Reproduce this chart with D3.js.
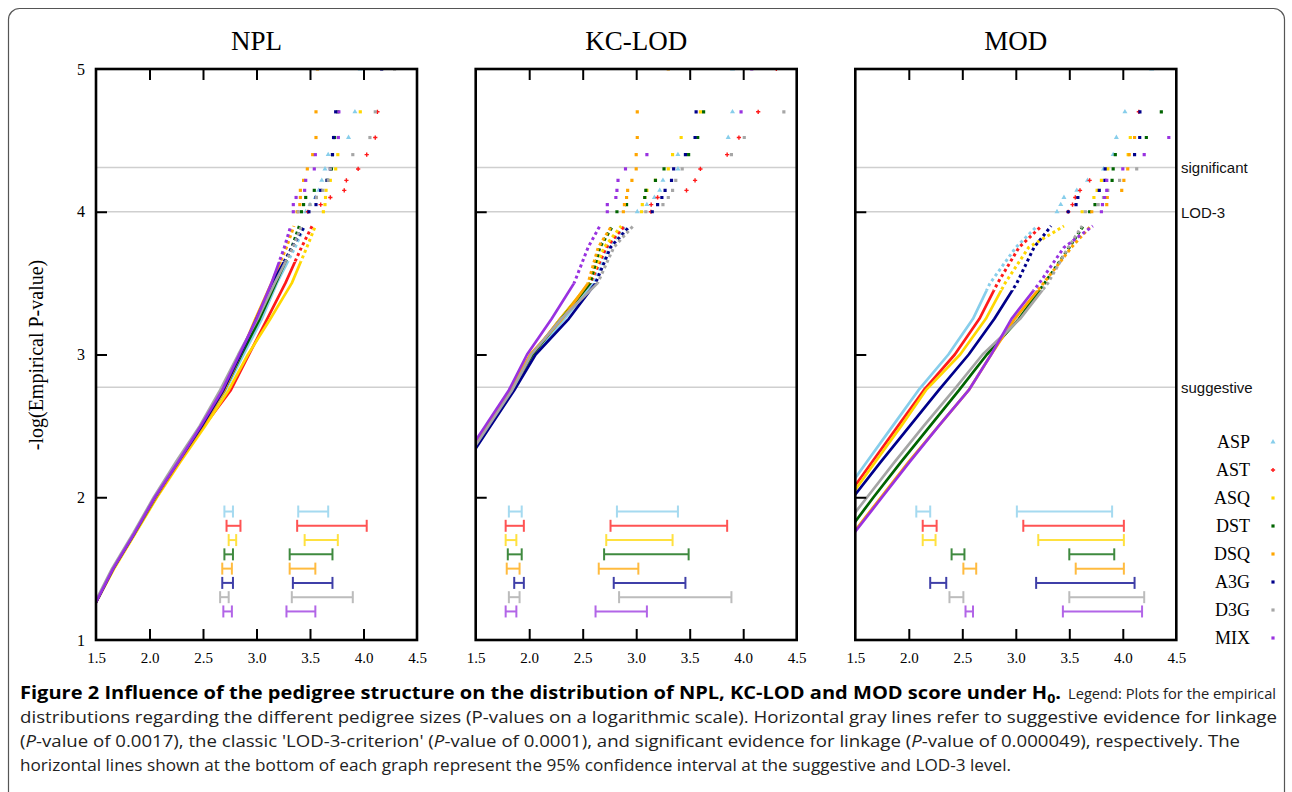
<!DOCTYPE html>
<html><head><meta charset="utf-8">
<script src="https://cdn.jsdelivr.net/npm/d3@7"></script>
<style>body{margin:0;background:#fff} svg{display:block}</style>
</head><body><svg id="c" width="1292" height="792"></svg>
<script>
const series = ["ASP","AST","ASQ","DST","DSQ","A3G","D3G","MIX"];
const colors = ["#87ceeb","#ff1a1a","#ffd700","#006400","#ffa500","#00008b","#a6a6a6","#9932e0"];
const panels = ["NPL","KC-LOD","MOD"];
const xTicks = [1.5,2.0,2.5,3.0,3.5,4.0,4.5];
const yTicks = [1,2,3,4,5];
const thresholds = [2.77, 4.0, 4.31];
const thresholdLabels = ["suggestive","LOD-3","significant"];

// -log(P) levels at which the solid part of each curve is sampled
const bodyLevels = [1.0,1.25,1.5,1.75,2.0,2.25,2.5,2.75,3.0,3.25,3.5,3.75,3.9];
// -log(P) levels of the isolated top points (ranks 1..10)
const tailLevels = [5.0,4.70,4.52,4.40,4.30,4.22,4.15,4.10,4.05,4.00];

// NPL
const nplBody = [
  [1.32,1.49,1.66,1.86,2.06,2.28,2.50,2.71,2.88,3.05,3.19,3.36,3.45],
  [1.32,1.49,1.66,1.86,2.06,2.28,2.51,2.76,2.93,3.10,3.27,3.42,3.52],
  [1.32,1.49,1.67,1.87,2.07,2.29,2.52,2.74,2.92,3.13,3.33,3.47,3.55],
  [1.32,1.49,1.66,1.86,2.06,2.27,2.49,2.70,2.86,3.03,3.18,3.33,3.40],
  [1.32,1.49,1.66,1.86,2.06,2.28,2.50,2.70,2.85,2.99,3.14,3.28,3.35],
  [1.32,1.49,1.66,1.86,2.05,2.27,2.49,2.69,2.85,3.00,3.15,3.33,3.45],
  [1.31,1.48,1.65,1.85,2.04,2.25,2.47,2.66,2.83,3.01,3.17,3.34,3.42],
  [1.32,1.49,1.66,1.86,2.05,2.27,2.48,2.68,2.84,3.00,3.14,3.26,3.32]
];
const nplTail = [
  [3.97,3.92,3.86,3.67,3.64,3.61,3.58,3.55,3.50,3.46],
  [null,4.13,4.11,4.03,3.95,3.84,3.82,3.69,3.60,3.48],
  [null,3.97,null,3.76,3.74,3.69,3.65,3.645,3.64,3.625],
  [null,3.76,3.73,3.71,3.70,3.66,3.54,3.46,3.44,3.42],
  [3.57,3.556,3.556,3.525,3.475,3.44,3.41,3.41,3.405,3.38],
  [4.17,3.74,3.72,3.71,3.69,3.66,3.60,3.556,3.556,3.49],
  [4.29,4.11,4.06,3.90,3.69,3.67,3.62,3.56,3.50,3.39],
  [null,3.77,3.765,3.55,3.54,3.46,3.45,3.37,3.344,3.344]
];
const nplSugCI = [[2.70,2.78],[2.72,2.85],[2.74,2.81],[2.70,2.78],[2.68,2.77],[2.68,2.78],[2.66,2.74],[2.69,2.77]];
const nplLodCI = [[3.39,3.67],[3.38,4.03],[3.45,3.76],[3.31,3.71],[3.31,3.55],[3.34,3.71],[3.33,3.90],[3.28,3.55]];

// KC-LOD
const kcBody = [
  [null,null,null,null,null,1.40,1.62,1.84,2.05,2.33,2.60,2.74,2.90],
  [null,null,null,null,null,1.39,1.61,1.83,2.03,2.29,2.57,2.72,2.89],
  [null,null,null,null,null,1.39,1.61,1.83,2.03,2.29,2.56,2.70,2.86],
  [null,null,null,null,null,1.39,1.61,1.83,2.03,2.30,2.57,2.66,2.78],
  [null,null,null,null,null,1.38,1.60,1.82,2.01,2.31,2.55,2.645,2.77],
  [null,null,null,null,null,1.42,1.64,1.86,2.06,2.37,2.62,2.76,2.94],
  [null,null,null,null,null,1.40,1.62,1.84,2.02,2.30,2.64,2.79,2.97],
  [null,null,null,null,null,1.37,1.59,1.81,1.98,2.21,2.42,2.55,2.66]
];
const kcTail = [
  [3.90,3.90,3.86,3.39,3.39,3.25,3.22,3.17,3.10,3.01],
  [4.31,4.14,3.96,3.85,3.60,3.55,3.47,3.20,3.14,3.138],
  [null,3.60,3.42,3.34,3.30,3.18,3.10,3.08,3.057,3.05],
  [null,3.63,3.575,3.49,3.26,3.18,3.09,3.08,2.91,2.82],
  [3.30,3.01,3.01,3.00,3.00,2.96,2.92,2.91,2.89,2.88],
  [null,3.56,3.55,3.46,3.35,3.33,3.27,3.24,3.20,3.15],
  [null,4.38,4.01,3.89,3.43,3.37,3.34,3.30,3.25,3.09],
  [4.08,3.98,null,3.10,2.90,2.83,2.82,2.81,2.73,2.73]
];
const kcSugCI = [[1.81,1.93],[1.78,1.95],[1.78,1.88],[1.80,1.93],[1.79,1.91],[1.86,1.95],[1.81,1.91],[1.78,1.88]];
const kcLodCI = [[2.82,3.39],[2.76,3.85],[2.72,3.34],[2.70,3.49],[2.65,3.02],[2.79,3.46],[2.84,3.89],[2.62,3.10]];

// MOD
const modBody = [
  [null,null,null,null,1.37,1.61,1.85,2.09,2.37,2.60,2.76,3.00,3.20],
  [null,null,null,null,1.42,1.66,1.90,2.14,2.43,2.66,2.83,3.03,3.24],
  [null,null,null,null,1.45,1.69,1.93,2.16,2.48,2.72,2.90,3.12,3.45],
  [null,null,null,1.42,1.67,1.93,2.20,2.47,2.73,3.03,3.27,3.50,3.63],
  [null,null,null,1.48,1.74,2.00,2.28,2.56,2.77,2.99,3.26,3.52,3.70],
  [null,null,null,null,1.48,1.74,2.01,2.28,2.56,2.80,3.01,3.17,3.33],
  [null,null,null,1.35,1.61,1.87,2.14,2.42,2.69,3.04,3.30,3.49,3.62],
  [null,null,null,1.49,1.75,2.01,2.28,2.56,2.77,2.96,3.22,3.45,3.72]
];
const modTail = [
  [4.27,4.02,3.94,3.91,3.82,3.67,3.57,3.45,3.42,3.385],
  [null,4.15,null,null,null,3.69,3.60,3.556,3.53,3.49],
  [null,null,4.07,4.05,3.86,3.80,3.76,3.73,null,3.62],
  [null,4.36,4.22,3.93,3.91,3.90,null,3.82,3.74,3.69],
  [null,null,4.11,4.06,4.046,4.01,3.99,3.855,3.85,3.71],
  [null,4.16,4.158,4.11,3.835,3.833,3.78,3.58,3.563,3.49],
  [null,null,null,null,4.13,3.97,3.86,3.82,3.77,3.65],
  [null,null,4.43,4.20,4.00,3.85,3.85,3.83,3.81,3.80]
];
const modSugCI = [[2.07,2.20],[2.13,2.26],[2.13,2.25],[2.40,2.52],[2.51,2.63],[2.20,2.35],[2.38,2.51],[2.53,2.60]];
const modLodCI = [[3.01,3.90],[3.07,4.01],[3.21,4.01],[3.50,3.92],[3.56,4.01],[3.19,4.11],[3.50,4.20],[3.44,4.18]];

const bodies = [nplBody, kcBody, modBody];
const tails = [nplTail, kcTail, modTail];
const sugCIs = [nplSugCI, kcSugCI, modSugCI];
const lodCIs = [nplLodCI, kcLodCI, modLodCI];

const serif = "'Liberation Serif','Times New Roman',serif";
const sans = "'Liberation Sans',Arial,sans-serif";
const svg = d3.select("#c");
const defs = svg.append("defs");

// outer figure border
svg.append("rect").attr("x",8.5).attr("y",8.5).attr("width",1276).attr("height",810)
  .attr("rx",11).attr("fill","none").attr("stroke","#555").attr("stroke-width",1.2);

const panelLeft = [96, 475.7, 855.3], PW = 321, PT = 69, PB = 640;
const dotStart = [3.65, 3.5, 3.45];

function marker(g, i, cx, cy) {
  const type = i === 0 ? d3.symbolTriangle : (i === 1 ? d3.symbolCross : d3.symbolSquare);
  const size = i === 0 ? 11 : 10;
  g.append("path").attr("d", d3.symbol(type, size)())
    .attr("transform", `translate(${cx},${cy})`).attr("fill", colors[i]);
}

panels.forEach((name, p) => {
  const L = panelLeft[p];
  const x = d3.scaleLinear().domain([1.5, 4.5]).range([L, L + PW]);
  const y = d3.scaleLinear().domain([1, 5]).range([PB, PT]);
  const g = svg.append("g");

  const ySplit = y(dotStart[p]);
  defs.append("clipPath").attr("id", "ca" + p).append("rect")
    .attr("x", L).attr("y", PT).attr("width", PW).attr("height", PB - PT);
  defs.append("clipPath").attr("id", "cl" + p).append("rect")
    .attr("x", L).attr("y", ySplit).attr("width", PW).attr("height", PB - ySplit);
  defs.append("clipPath").attr("id", "ch" + p).append("rect")
    .attr("x", L).attr("y", PT).attr("width", PW).attr("height", ySplit - PT);

  thresholds.forEach(t => {
    g.append("line").attr("x1", L).attr("x2", L + PW).attr("y1", y(t)).attr("y2", y(t))
      .attr("stroke", "#cfcfcf").attr("stroke-width", 1.5);
  });

  const line = d3.line().x(d => x(d[0])).y(d => y(d[1]));
  const gc = g.append("g");
  series.forEach((s, i) => {
    const pts = bodies[p][i].map((v, j) => [v, bodyLevels[j]]).filter(d => d[0] != null);
    gc.append("path").attr("d", line(pts)).attr("clip-path", `url(#cl${p})`)
      .attr("fill", "none").attr("stroke", colors[i]).attr("stroke-width", 2.7)
      .attr("stroke-linejoin", "round");
    gc.append("path").attr("d", line(pts)).attr("clip-path", `url(#ch${p})`)
      .attr("fill", "none").attr("stroke", colors[i]).attr("stroke-width", 3)
      .attr("stroke-dasharray", "3,3");
  });
  const gt = g.append("g").attr("clip-path", `url(#ca${p})`);
  series.forEach((s, i) => {
    tails[p][i].forEach((v, k) => {
      if (v == null) return;
      marker(gt, i, x(v), y(tailLevels[k]));
    });
  });

  const rowY = d3.scalePoint().domain(series).range([y(1.9), y(1.2)]);
  [sugCIs[p], lodCIs[p]].forEach(ci => {
    ci.forEach((d, i) => {
      const yy = rowY(series[i]);
      const gg = g.append("g").attr("stroke", colors[i]).attr("stroke-width", 2).attr("opacity", 0.75);
      gg.append("line").attr("x1", x(d[0])).attr("x2", x(d[1])).attr("y1", yy).attr("y2", yy);
      d.forEach(v => gg.append("line").attr("x1", x(v)).attr("x2", x(v)).attr("y1", yy - 6).attr("y2", yy + 6));
    });
  });

  const styleTicks = sel => { sel.select(".domain").remove(); sel.selectAll(".tick line").attr("stroke", "#000").attr("stroke-width", 2); };
  g.append("g").attr("transform", `translate(0,${PB})`)
    .call(d3.axisBottom(x).tickValues([2, 2.5, 3, 3.5, 4]).tickSize(-11).tickFormat("")).call(styleTicks);
  g.append("g").attr("transform", `translate(0,${PT})`)
    .call(d3.axisTop(x).tickValues([2, 2.5, 3, 3.5, 4]).tickSize(-11).tickFormat("")).call(styleTicks);
  g.append("g").attr("transform", `translate(${L},0)`)
    .call(d3.axisLeft(y).tickValues([2, 3, 4]).tickSize(-11).tickFormat("")).call(styleTicks);

  const xl = g.append("g").attr("transform", `translate(0,${PB})`)
    .call(d3.axisBottom(x).tickValues(xTicks).tickSize(0).tickPadding(12).tickFormat(d3.format(".1f")));
  xl.select(".domain").remove();
  xl.selectAll("text").attr("font-family", serif).attr("font-size", 15).attr("fill", "#000");
  if (p === 0) {
    const yl = g.append("g").attr("transform", `translate(${L},0)`)
      .call(d3.axisLeft(y).tickValues(yTicks).tickSize(0).tickPadding(11).tickFormat(d3.format("d")));
    yl.select(".domain").remove();
    yl.selectAll("text").attr("font-family", serif).attr("font-size", 16).attr("fill", "#000");
  }

  g.append("rect").attr("x", L).attr("y", PT).attr("width", PW).attr("height", PB - PT)
    .attr("fill", "none").attr("stroke", "#000").attr("stroke-width", 2.6);

  svg.append("text").attr("x", L + PW / 2).attr("y", 50).attr("text-anchor", "middle")
    .attr("font-family", serif).attr("font-size", 27).text(name);

  if (p === 2) {
    thresholds.forEach((t, k) => {
      svg.append("text").attr("x", 1181).attr("y", y(t) + 6).attr("font-family", sans)
        .attr("font-size", 15).attr("fill", "#111").text(thresholdLabels[k]);
    });
  }
});

svg.append("text").attr("transform", "translate(43,355) rotate(-90)").attr("text-anchor", "middle")
  .attr("font-family", serif).attr("font-size", 20).text("-log(Empirical P-value)");

const legY = d3.scalePoint().domain(series).range([442, 638]);
series.forEach((s, i) => {
  svg.append("text").attr("x", 1250).attr("y", legY(s)).attr("dy", "0.35em").attr("text-anchor", "end")
    .attr("font-family", serif).attr("font-size", 18).text(s);
  marker(svg, i, 1273, legY(s));
});

// caption
const capFont = "'Liberation Sans Narrow','Open Sans',Arial,sans-serif";
const cap = svg.append("g").attr("font-family", capFont).attr("font-size", 17).attr("fill", "#222");
const t1 = cap.append("text").attr("x", 20).attr("y", 699).attr("textLength", 1041).attr("lengthAdjust", "spacingAndGlyphs").attr("font-weight", "bold").attr("fill", "#000");
t1.append("tspan").text("Figure 2 Influence of the pedigree structure on the distribution of NPL, KC-LOD and MOD score under H");
t1.append("tspan").attr("font-size", 12).attr("dy", 4).text("0");
t1.append("tspan").attr("dy", -4).text(".");
cap.append("text").attr("x", 1068).attr("y", 699).attr("font-size", 15).attr("textLength", 208).attr("lengthAdjust", "spacingAndGlyphs")
  .text("Legend: Plots for the empirical");
cap.append("text").attr("x", 20).attr("y", 723).attr("textLength", 1257).attr("lengthAdjust", "spacingAndGlyphs")
  .text("distributions regarding the different pedigree sizes (P-values on a logarithmic scale). Horizontal gray lines refer to suggestive evidence for linkage");
const t3 = cap.append("text").attr("x", 20).attr("y", 747).attr("textLength", 1220).attr("lengthAdjust", "spacingAndGlyphs");
[["(",0],["P",1],["-value of 0.0017), the classic 'LOD-3-criterion' (",0],["P",1],["-value of 0.0001), and significant evidence for linkage (",0],["P",1],["-value of 0.000049), respectively. The",0]]
  .forEach(([s, it]) => t3.append("tspan").attr("font-style", it ? "italic" : "normal").text(s));
cap.append("text").attr("x", 20).attr("y", 771).attr("textLength", 991).attr("lengthAdjust", "spacingAndGlyphs")
  .text("horizontal lines shown at the bottom of each graph represent the 95% confidence interval at the suggestive and LOD-3 level.");
</script>
</body></html>
